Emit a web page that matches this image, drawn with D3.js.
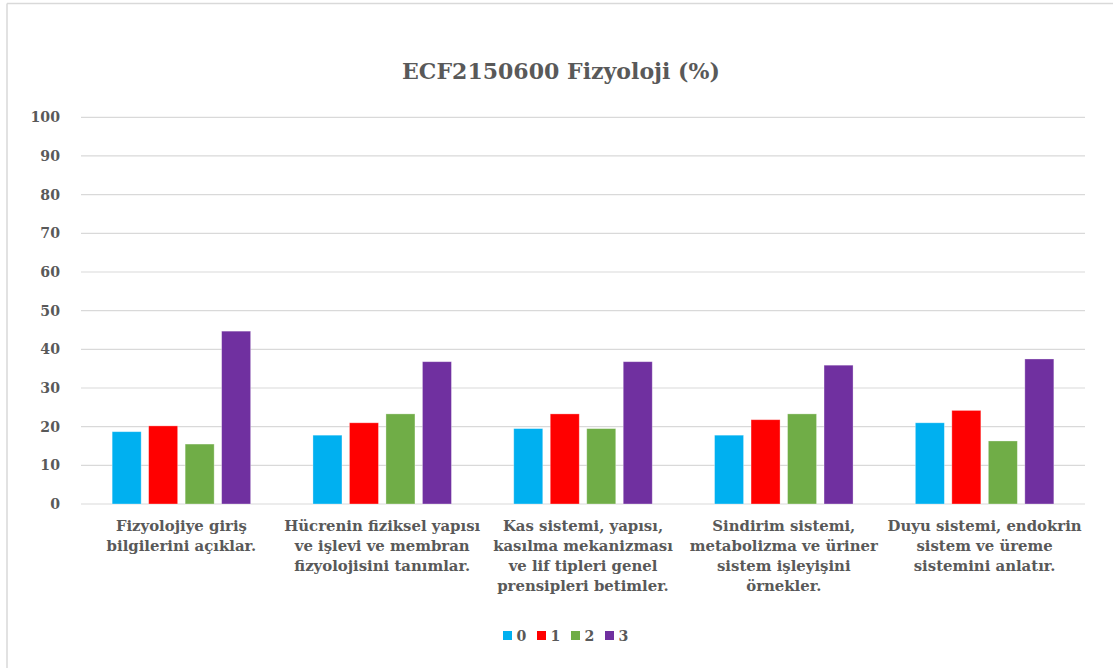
<!DOCTYPE html>
<html>
<head>
<meta charset="utf-8">
<script src="https://cdn.jsdelivr.net/npm/d3@7"></script>
<style>
  html, body { margin: 0; padding: 0; background: #fff; }
  svg { display: block; }
  text { font-family: "DejaVu Serif", serif; font-weight: bold; fill: #595959; }
</style>
</head>
<body>
<script>
const title = "ECF2150600 Fizyoloji (%)";
const categories = [
  ["Fizyolojiye giriş", "bilgilerini açıklar."],
  ["Hücrenin fiziksel yapısı", "ve işlevi ve membran", "fizyolojisini tanımlar."],
  ["Kas sistemi, yapısı,", "kasılma mekanizması", "ve lif tipleri genel", "prensipleri betimler."],
  ["Sindirim sistemi,", "metabolizma ve üriner", "sistem işleyişini", "örnekler."],
  ["Duyu sistemi, endokrin", "sistem ve üreme", "sistemini anlatır."]
];
const seriesNames = ["0", "1", "2", "3"];
const seriesColors = ["#00B0F0", "#FF0000", "#70AD47", "#7030A0"];
const values0 = [18.7, 17.8, 19.5, 17.8, 21.0];
const values1 = [20.2, 21.0, 23.3, 21.8, 24.2];
const values2 = [15.5, 23.3, 19.5, 23.3, 16.3];
const values3 = [44.7, 36.8, 36.8, 35.9, 37.5];
const yTicks = [0, 10, 20, 30, 40, 50, 60, 70, 80, 90, 100];

const seriesValues = [values0, values1, values2, values3];
const catKeys = categories.map((c, i) => "c" + i);

const W = 1113, H = 668;
const svg = d3.select("body").append("svg").attr("width", W).attr("height", H);

// size a font so that a sample string reaches a target width (the reference used a narrower serif)
function fitSize(sample, base, target) {
  const t = svg.append("text").style("font-size", base + "px").text(sample);
  const w = t.node().getComputedTextLength();
  t.remove();
  return base * target / w;
}
const titleSize = fitSize(title, 26, 318);
const labelSize = (fitSize("Fizyolojiye giriş", 16, 137.6) + fitSize("Hücrenin fiziksel yapısı", 16, 186.6)) / 2;
const tickSize = fitSize("100", 16, 29.5);

// chart border (left and top visible)
svg.append("line").attr("x1", 7).attr("x2", 7).attr("y1", 3.5).attr("y2", H)
  .attr("stroke", "#d9d9d9").attr("stroke-width", 1.5);
svg.append("line").attr("x1", 7).attr("x2", W).attr("y1", 3.5).attr("y2", 3.5)
  .attr("stroke", "#d9d9d9").attr("stroke-width", 1.5);

const x0 = d3.scaleBand().domain(catKeys).range([81, 1085]).padding(0);
const groupW = x0.bandwidth();
const clusterW = 138.5;
const x1 = d3.scaleBand().domain(seriesNames)
  .range([(groupW - clusterW) / 2, (groupW + clusterW) / 2])
  .paddingInner(0.205).paddingOuter(0);
const y = d3.scaleLinear().domain([0, 100]).range([504, 117.3]);

// gridlines
svg.append("g").selectAll("line").data(yTicks).join("line")
  .attr("x1", 81).attr("x2", 1085)
  .attr("y1", d => y(d)).attr("y2", d => y(d))
  .attr("stroke", "#d9d9d9").attr("stroke-width", 1.2);

// y axis labels
svg.append("g").selectAll("text").data(yTicks).join("text")
  .attr("x", 60).attr("y", d => y(d)).attr("dy", "0.36em")
  .attr("text-anchor", "end").style("font-size", tickSize + "px")
  .text(d => d);

// bars
const groups = svg.append("g").selectAll("g").data(catKeys).join("g")
  .attr("transform", d => `translate(${x0(d)},0)`);
groups.selectAll("rect")
  .data((d, i) => seriesNames.map((s, j) => ({ s, j, v: seriesValues[j][i] })))
  .join("rect")
  .attr("x", d => x1(d.s))
  .attr("width", x1.bandwidth())
  .attr("y", d => y(d.v))
  .attr("height", d => y(0) - y(d.v))
  .attr("fill", d => seriesColors[d.j])
  .attr("stroke", "#ffffff").attr("stroke-opacity", 0.4).attr("stroke-width", 0.8);

// category labels
const lab = svg.append("g").selectAll("text").data(categories).join("text")
  .attr("x", (d, i) => x0(catKeys[i]) + groupW / 2)
  .attr("y", 530.5)
  .attr("text-anchor", "middle").style("font-size", labelSize + "px");
lab.selectAll("tspan").data(d => d).join("tspan")
  .attr("x", function () { return d3.select(this.parentNode).attr("x"); })
  .attr("dy", (d, i) => i === 0 ? 0 : 20.2)
  .text(d => d);

// title
svg.append("text").attr("x", 561).attr("y", 79)
  .attr("text-anchor", "middle").style("font-size", titleSize + "px")
  .text(title);

// legend
const legX = [503, 537, 571, 605];
const leg = svg.append("g").selectAll("g").data(seriesNames).join("g")
  .attr("transform", (d, i) => `translate(${legX[i]},631)`);
leg.append("rect").attr("width", 9).attr("height", 9)
  .attr("fill", (d, i) => seriesColors[i]);
leg.append("text").attr("x", 13.5).attr("y", 9.8).style("font-size", tickSize + "px").text(d => d);
</script>
</body>
</html>
